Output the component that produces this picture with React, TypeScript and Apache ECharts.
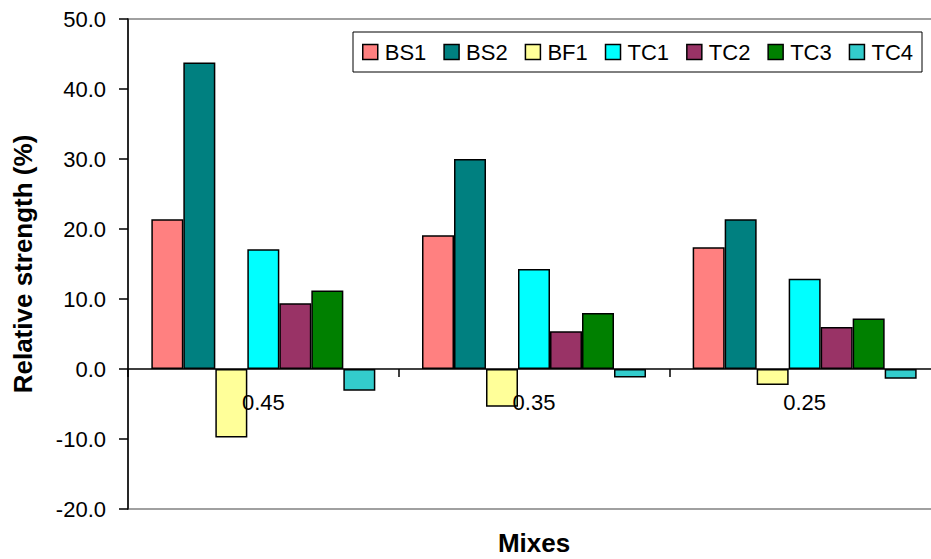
import React, { useEffect, useRef } from "react";
import * as echarts from "echarts";

const categories = ["0.45", "0.35", "0.25"];
const seriesNames = ["BS1", "BS2", "BF1", "TC1", "TC2", "TC3", "TC4"];
const BS1 = [21.4, 19.1, 17.4];
const BS2 = [43.8, 30.0, 21.4];
const BF1 = [-9.8, -5.4, -2.3];
const TC1 = [17.1, 14.3, 12.9];
const TC2 = [9.4, 5.4, 6.0];
const TC3 = [11.2, 8.0, 7.2];
const TC4 = [-3.1, -1.2, -1.4];
const seriesValues = [BS1, BS2, BF1, TC1, TC2, TC3, TC4];
const colors = ["#FF8080", "#008080", "#FFFF99", "#00FFFF", "#993366", "#008000", "#33CCCC"];

const FONT = "'Liberation Sans', Arial, Helvetica, sans-serif";

export default function App() {
  const ref = useRef<HTMLDivElement>(null);
  useEffect(() => {
    if (!ref.current) return;
    const chart = echarts.init(ref.current, undefined, { renderer: "svg" });
    chart.setOption({
      animation: false,
      backgroundColor: "#ffffff",
      textStyle: { fontFamily: FONT },
      grid: {
        left: 128,
        right: -9,
        top: 19,
        bottom: 50,
        containLabel: false,
        outerBoundsMode: "none",
        show: true,
        borderColor: "#a0a0a0",
        borderWidth: 2,
        backgroundColor: "transparent",
      },
      legend: {
        data: seriesNames,
        left: 353,
        top: 32,
        orient: "horizontal",
        padding: [9, 9, 9, 9],
        itemGap: 17,
        itemWidth: 15,
        itemHeight: 15,
        icon: "rect",
        borderColor: "#000",
        borderWidth: 1,
        backgroundColor: "#fff",
        itemStyle: { borderColor: "#000", borderWidth: 1.5 },
        textStyle: { fontSize: 22, color: "#000", fontFamily: FONT, padding: [0, 0, 0, 2] },
      },
      xAxis: {
        type: "category",
        data: categories,
        z: 5,
        name: "Mixes",
        nameLocation: "middle",
        nameGap: 21,
        nameMoveOverlap: false,
        nameTextStyle: { fontSize: 26, fontWeight: "bold", color: "#000", fontFamily: FONT },
        axisLine: { onZero: true, lineStyle: { color: "#000", width: 1.5 } },
        axisTick: { show: true, length: 8, lineStyle: { color: "#000", width: 1.5 } },
        axisLabel: { fontSize: 22, color: "#000", margin: -118, fontFamily: FONT },
        splitLine: { show: false },
      },
      yAxis: {
        type: "value",
        min: -20,
        max: 50,
        interval: 10,
        name: "Relative strength (%)",
        nameLocation: "middle",
        nameGap: 92,
        nameTextStyle: { fontSize: 26, fontWeight: "bold", color: "#000", fontFamily: FONT },
        axisLine: { show: true, lineStyle: { color: "#000", width: 1.5 } },
        axisTick: { show: true, length: 9, lineStyle: { color: "#000", width: 1.5 } },
        axisLabel: {
          fontSize: 22,
          color: "#000",
          margin: 22,
          fontFamily: FONT,
          formatter: (v: number) => v.toFixed(1),
        },
        splitLine: { show: false },
      },
      series: seriesNames.map((name, i) => ({
        name,
        type: "bar",
        data: seriesValues[i],
        barWidth: 32,
        barGap: "0%",
        itemStyle: { color: colors[i], borderColor: "#000", borderWidth: 1.5 },
      })),
    });
    return () => chart.dispose();
  }, []);
  return (
    <div
      ref={ref}
      style={{ position: "fixed", left: 0, top: 0, width: 931, height: 559, background: "#fff" }}
    />
  );
}
